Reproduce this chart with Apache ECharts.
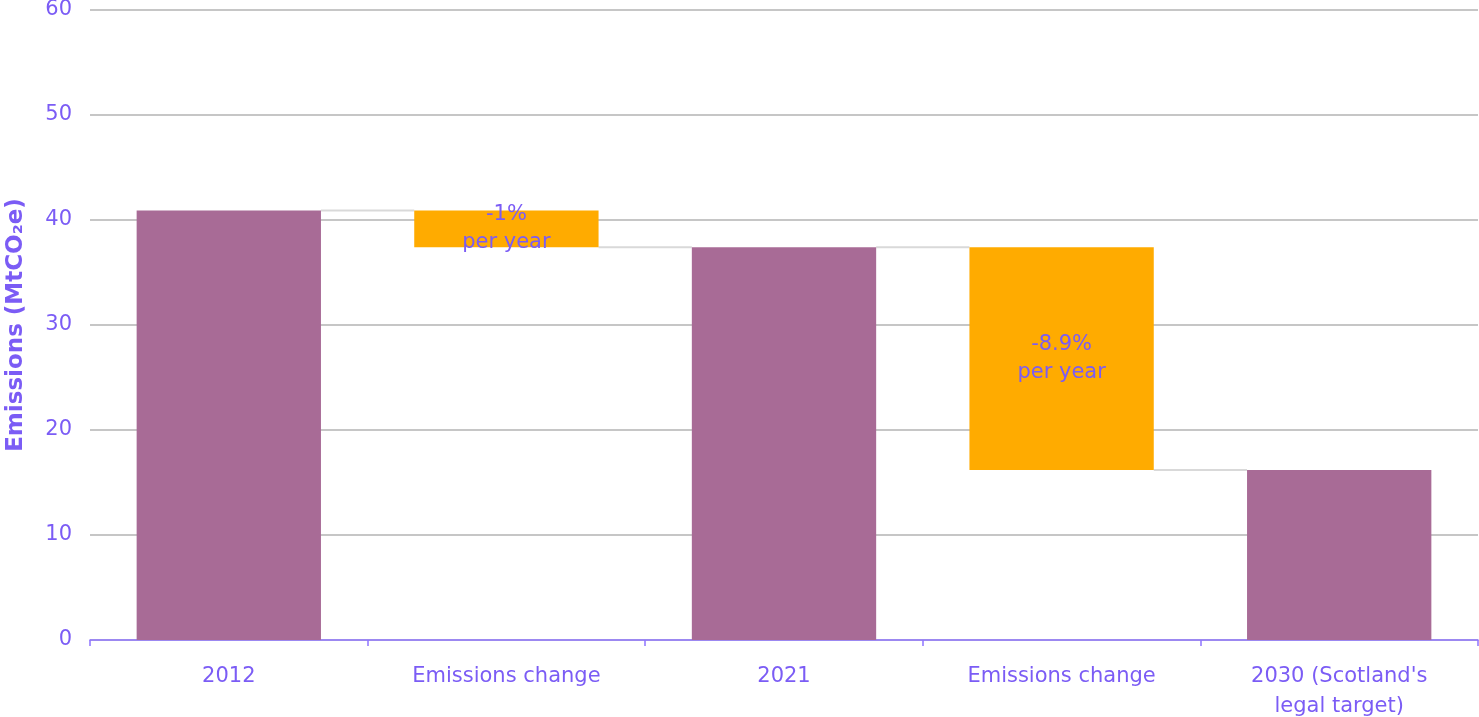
<!DOCTYPE html>
<html>
<head>
<meta charset="utf-8">
<script src="https://cdn.jsdelivr.net/npm/echarts@6/dist/echarts.min.js"></script>
<style>
html,body{margin:0;padding:0;background:#fff;}
#chart{width:1479px;height:717px;}
</style>
</head>
<body>
<div id="chart"></div>
<script>
// Data
const categories = ['2012', 'Emissions change', '2021', 'Emissions change', "2030 (Scotland's\nlegal target)"];
const kinds = ['total', 'change', 'total', 'change', 'total'];
const values = [40.9, -3.5, 37.4, -21.2, 16.2];
const changeLabels = ['', '-1%\nper year', '', '-8.9%\nper year', ''];
const yTicks = [0, 10, 20, 30, 40, 50, 60];

// Derived waterfall pieces
const baseData = [], totalData = [], changeData = [], connectorData = [];
let running = 0;
values.forEach((v, i) => {
  if (kinds[i] === 'total') {
    running = v;
    baseData.push(0); totalData.push(v); changeData.push('-');
  } else {
    const next = running + v;
    baseData.push(Math.min(running, next));
    totalData.push('-');
    changeData.push(Math.abs(v));
    running = next;
  }
  if (i < values.length - 1) connectorData.push([i, running]);
});

const TXT = '#7b5cf5';
const FONT = 'DejaVu Sans';
const BARW = 0.664;

const chart = echarts.init(document.getElementById('chart'));
chart.setOption({
  animation: false,
  textStyle: { fontFamily: FONT },
  grid: { left: 90, right: 1, top: 10, bottom: 77, containLabel: false, outerBoundsMode: 'none' },
  xAxis: {
    type: 'category',
    data: categories,
    axisLine: { lineStyle: { color: '#8e74ff', width: 1.5 } },
    axisTick: { show: true, length: 6, lineStyle: { color: '#8e74ff', width: 1.5 } },
    axisLabel: { color: TXT, fontSize: 21, fontFamily: FONT, margin: 22, lineHeight: 30, interval: 0 }
  },
  yAxis: {
    type: 'value',
    min: yTicks[0], max: yTicks[yTicks.length - 1], interval: 10,
    name: 'Emissions (MtCO₂e)',
    nameLocation: 'middle', nameRotate: 90, nameGap: 62,
    nameTextStyle: { color: TXT, fontSize: 23, fontWeight: 'bold', fontFamily: FONT },
    axisLine: { show: false },
    axisTick: { show: false },
    axisLabel: { color: TXT, fontSize: 21, fontFamily: FONT, margin: 18 },
    splitLine: { lineStyle: { color: '#b3b3b3', width: 1.5 } }
  },
  series: [
    {
      type: 'bar', stack: 'w', barWidth: (BARW * 100) + '%',
      data: baseData, itemStyle: { color: 'transparent' }, silent: true
    },
    {
      type: 'bar', stack: 'w', data: totalData,
      itemStyle: { color: '#a86b96' }
    },
    {
      type: 'bar', stack: 'w', data: changeData,
      itemStyle: { color: '#ffab00' },
      label: {
        show: true, position: 'inside', color: TXT, fontSize: 21, fontFamily: FONT, lineHeight: 28,
        formatter: p => changeLabels[p.dataIndex]
      }
    },
    {
      type: 'custom',
      data: connectorData,
      z: 1,
      renderItem: function (params, api) {
        const i = api.value(0), lvl = api.value(1);
        const c = api.coord([i, lvl]);
        const band = api.size([1, 0])[0];
        const half = band * BARW / 2;
        return {
          type: 'line',
          shape: { x1: c[0] + half, y1: c[1], x2: c[0] + band - half, y2: c[1] },
          style: { stroke: '#d9d9d9', lineWidth: 2 }
        };
      }
    }
  ]
});
</script>
</body>
</html>
